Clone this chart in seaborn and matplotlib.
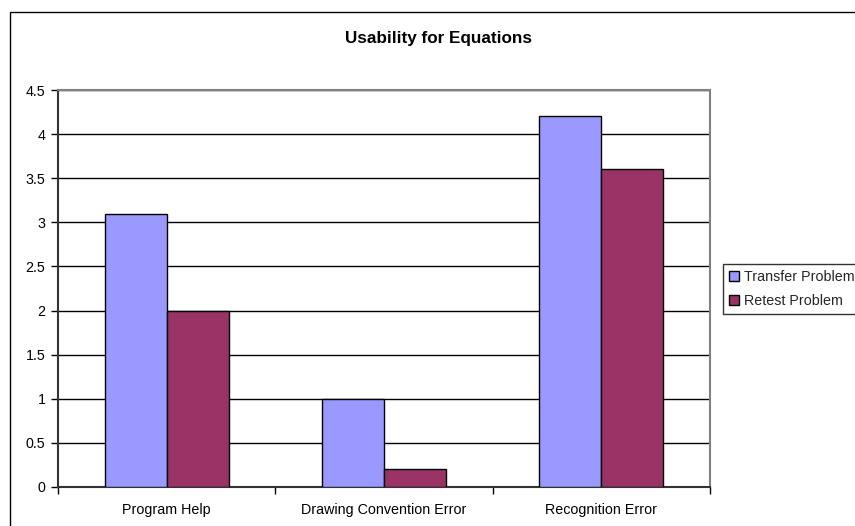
import matplotlib
matplotlib.use("Agg")
import matplotlib.pyplot as plt
from matplotlib.patches import Rectangle, Patch
import pandas as pd
import seaborn as sns

categories = ["Program Help", "Drawing Convention Error", "Recognition Error"]
series_names = ["Transfer Problem", "Retest Problem"]
transfer_values = [3.1, 1.0, 4.2]
retest_values = [2.0, 0.2, 3.6]
y_ticks = [0, 0.5, 1, 1.5, 2, 2.5, 3, 3.5, 4, 4.5]
y_tick_labels = ["0", "0.5", "1", "1.5", "2", "2.5", "3", "3.5", "4", "4.5"]
colors = ["#9999FF", "#993366"]

df = pd.DataFrame({
    "category": categories * 2,
    "series": [series_names[0]] * 3 + [series_names[1]] * 3,
    "value": transfer_values + retest_values,
})

sns.set_theme(style="white")
plt.rcParams["font.family"] = ["Liberation Sans", "DejaVu Sans"]

W, H = 855, 526
fig = plt.figure(figsize=(W / 100, H / 100), dpi=100)
fig.patch.set_facecolor("white")

# outer chart border (extends past the right and bottom edges)
fig.patches.append(Rectangle((10 / W, -0.1), 1.0, 1.1 - 12 / H, transform=fig.transFigure,
                             fill=False, edgecolor="black", linewidth=1.0))

ax = fig.add_axes([58 / W, 1 - 487 / H, (710 - 58) / W, (487 - 90) / H])
sns.barplot(data=df, x="category", y="value", hue="series", order=categories,
            hue_order=series_names, palette=colors, width=0.571, gap=0,
            edgecolor="black", linewidth=1.0, saturation=1, ax=ax, legend=False, zorder=3)

ax.set_xlim(-0.5, 2.5)
ax.set_ylim(0, 4.5)
ax.set_yticks(y_ticks)
ax.set_yticklabels(y_tick_labels)
ax.yaxis.grid(True, color="black", linewidth=1.0, zorder=0)
ax.set_axisbelow(True)
ax.set_xlabel("")
ax.set_ylabel("")

ax.set_xticks(range(len(categories)))
ax.set_xticklabels(categories)
ax.set_xticks([-0.5, 0.5, 1.5, 2.5], minor=True)
ax.tick_params(axis="x", which="major", length=0, pad=11.7, labelsize=10.3, colors="black")
ax.tick_params(axis="x", which="minor", length=5, width=1, direction="out", color="black", bottom=True)
ax.tick_params(axis="y", which="major", length=5, width=1, direction="out", pad=4,
               labelsize=10.3, colors="black", left=True)

for side in ["top", "right"]:
    ax.spines[side].set_color("#808080")
    ax.spines[side].set_linewidth(1.5)
for side in ["left", "bottom"]:
    ax.spines[side].set_color("#333333")
    ax.spines[side].set_linewidth(1.5)

fig.text(438 / W, 1 - 38 / H, "Usability for Equations", ha="center", va="center",
         fontsize=12.3, fontweight="bold", color="black")

handles = [Patch(facecolor=c, edgecolor="black", linewidth=1.0) for c in colors]
leg = fig.legend(handles, series_names, loc="upper left",
                 bbox_to_anchor=(723 / W, 1 - 264 / H), frameon=True, fontsize=10.3,
                 handlelength=0.7, handleheight=0.7, handletextpad=0.35,
                 labelspacing=0.75, borderpad=0.4, borderaxespad=0, fancybox=False)
leg.get_frame().set_edgecolor("black")
leg.get_frame().set_linewidth(1.0)

fig.savefig("out.png", dpi=100)
